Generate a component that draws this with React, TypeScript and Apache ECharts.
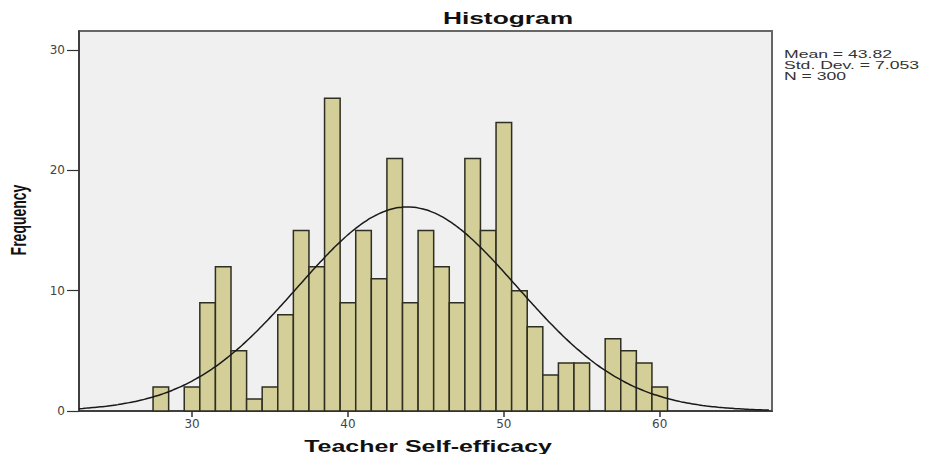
import React, { useEffect, useRef } from "react";
import * as echarts from "echarts";

// Histogram bins (bin centre, width 1) and their frequencies
const binCenters = [28, 30, 31, 32, 33, 34, 35, 36, 37, 38, 39, 40, 41, 42, 43, 44, 45, 46, 47, 48, 49, 50, 51, 52, 53, 54, 55, 57, 58, 59, 60];
const frequencies = [2, 2, 9, 12, 5, 1, 2, 8, 15, 12, 26, 9, 15, 11, 21, 9, 15, 12, 9, 21, 15, 24, 10, 7, 3, 4, 4, 6, 5, 4, 2];

const xTicks = [30, 40, 50, 60];
const yTicks = [0, 10, 20, 30];

const MEAN = 43.82;
const SD = 7.053;
const N = 300;
const BIN_WIDTH = 1;

const X_MIN = 22.75;
const X_MAX = 67.2;
const Y_MAX = 31.6;

const statLines = ["Mean = 43.82", "Std. Dev. = 7.053", "N = 300"];
const titleText = "Histogram";
const xName = "Teacher Self-efficacy";
const yName = "Frequency";

function normalCurve(): number[][] {
  const pts: number[][] = [];
  const k = (N * BIN_WIDTH) / (SD * Math.sqrt(2 * Math.PI));
  for (let x = X_MIN; x <= X_MAX + 1e-9; x += 0.25) {
    const z = (x - MEAN) / SD;
    pts.push([x, k * Math.exp(-0.5 * z * z)]);
  }
  return pts;
}

export default function App() {
  const ref = useRef<HTMLDivElement>(null);

  useEffect(() => {
    if (!ref.current) return;
    const chart = echarts.init(ref.current, undefined, { renderer: "svg" });
    const barData = binCenters.map((c, i) => [c, frequencies[i]]);

    chart.setOption({
      animation: false,
      backgroundColor: "#ffffff",
      grid: {
        left: 79,
        right: 153,
        top: 31,
        bottom: 43,
        show: true,
        backgroundColor: "#f0f0f0",
        borderColor: "#666666",
        borderWidth: 2,
      },
      xAxis: {
        type: "value",
        min: X_MIN,
        max: X_MAX,
        splitLine: { show: false },
        axisLine: { show: true, onZero: false, lineStyle: { color: "#333333", width: 1.5 } },
        axisTick: { show: true, length: 6, customValues: xTicks, lineStyle: { color: "#333333", width: 1.5 } },
        axisLabel: {
          customValues: xTicks,
          margin: 7,
          fontSize: 12,
          color: "#444444",
          fontFamily: "DejaVu Sans",
        },
      },
      yAxis: {
        type: "value",
        min: 0,
        max: Y_MAX,
        splitLine: { show: false },
        axisLine: { show: true, lineStyle: { color: "#333333", width: 1.5 } },
        axisTick: { show: true, length: 12, customValues: yTicks, lineStyle: { color: "#333333", width: 1.2 } },
        axisLabel: {
          customValues: yTicks,
          margin: 14,
          fontSize: 12,
          color: "#444444",
          fontFamily: "DejaVu Sans",
        },
      },
      series: [
        {
          type: "custom",
          data: barData,
          encode: { x: 0, y: 1 },
          renderItem: (params: any, api: any) => {
            const x = api.value(0);
            const y = api.value(1);
            if (!y) return null;
            const p0 = api.coord([x - BIN_WIDTH / 2, y]);
            const p1 = api.coord([x + BIN_WIDTH / 2, 0]);
            return {
              type: "rect",
              shape: { x: p0[0], y: p0[1], width: p1[0] - p0[0], height: p1[1] - p0[1] },
              style: { fill: "#d4cf98", stroke: "#2e2e22", lineWidth: 1.5 },
            };
          },
          z: 2,
        },
        {
          type: "line",
          data: normalCurve(),
          showSymbol: false,
          smooth: true,
          lineStyle: { color: "#1a1a1a", width: 1.5 },
          z: 3,
        },
      ],
      graphic: [
        {
          type: "text",
          x: 508,
          y: 18,
          scaleX: 1.55,
          style: {
            text: titleText,
            font: "bold 17px 'Liberation Sans', Arial, sans-serif",
            fill: "#111111",
            align: "center",
            verticalAlign: "middle",
          },
        },
        {
          type: "text",
          x: 428,
          y: 446,
          scaleX: 1.56,
          style: {
            text: xName,
            font: "bold 16px 'Liberation Sans', Arial, sans-serif",
            fill: "#111111",
            align: "center",
            verticalAlign: "middle",
          },
        },
        {
          type: "text",
          x: 18,
          y: 220,
          rotation: Math.PI / 2,
          scaleY: 1.55,
          style: {
            text: yName,
            font: "bold 14px 'Liberation Sans', Arial, sans-serif",
            fill: "#111111",
            align: "center",
            verticalAlign: "middle",
          },
        },
        {
          type: "text",
          x: 784,
          y: 49,
          scaleX: 1.6,
          style: {
            text: statLines.join("\n"),
            font: "11px 'Liberation Sans', Arial, sans-serif",
            lineHeight: 11,
            fill: "#333333",
            align: "left",
            verticalAlign: "top",
          },
        },
      ],
    });

    return () => chart.dispose();
  }, []);

  return <div ref={ref} style={{ width: 925, height: 454, position: "absolute", left: 0, top: 0 }} />;
}
